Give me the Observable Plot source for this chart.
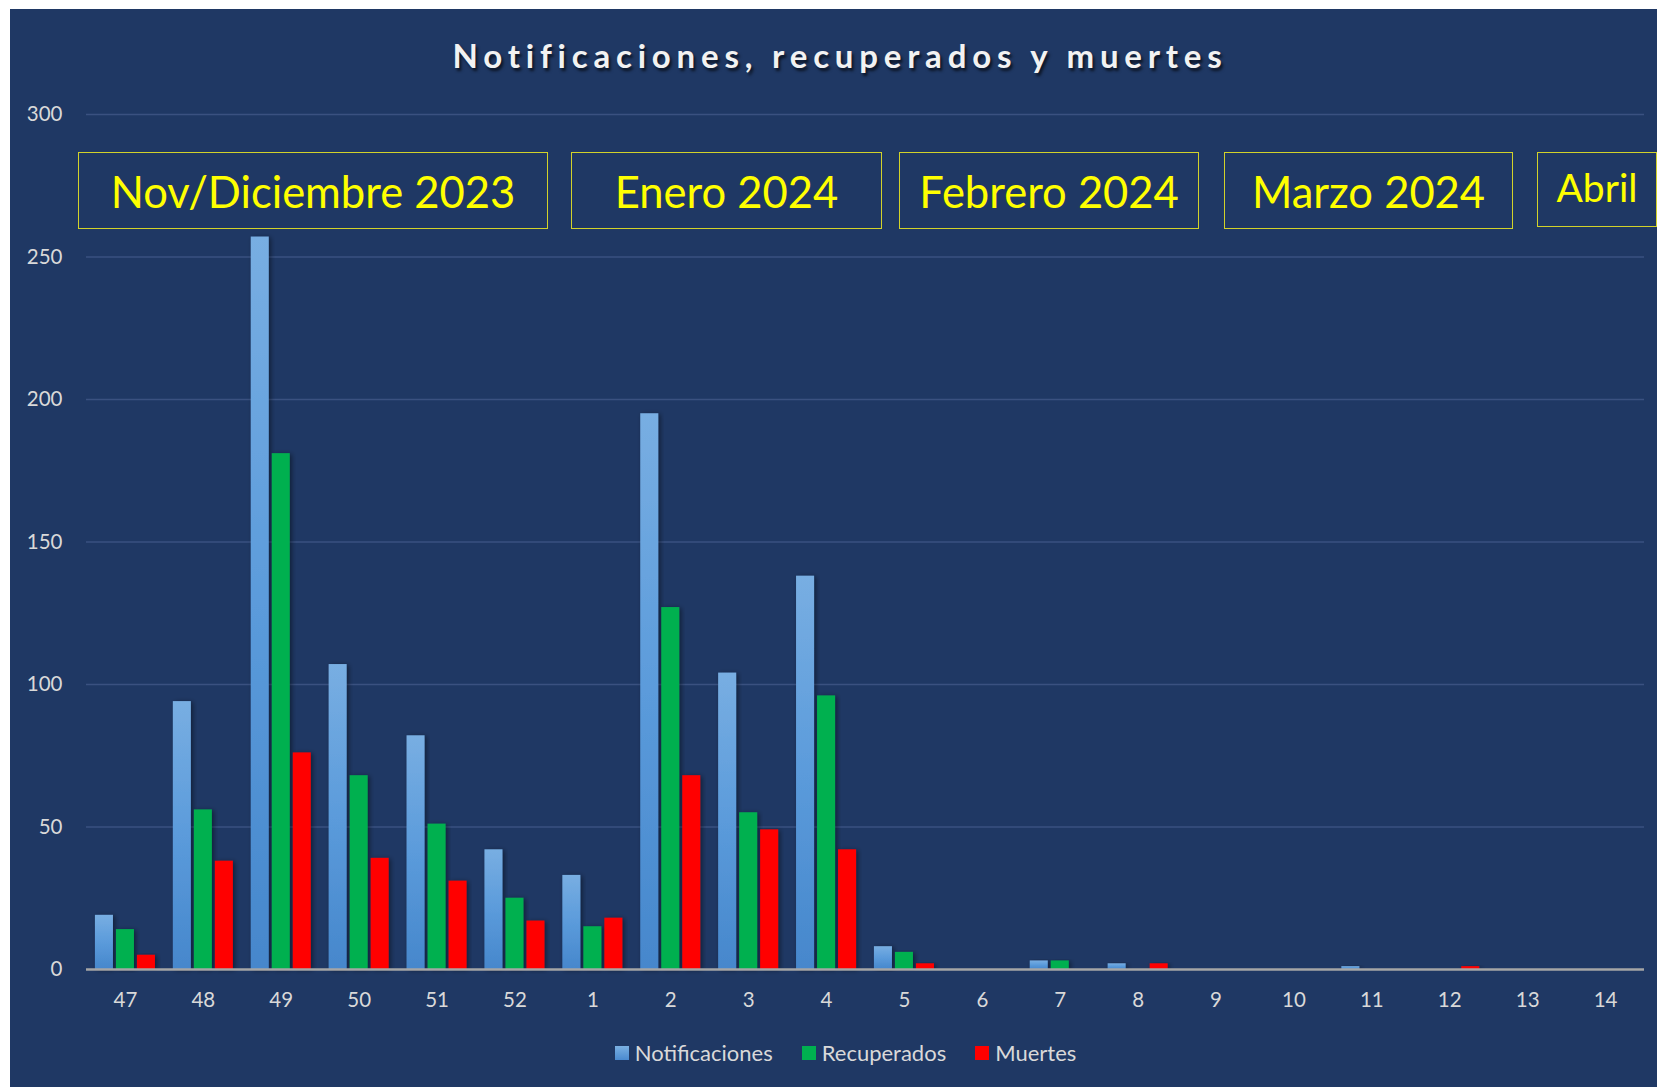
<!DOCTYPE html>
<html>
<head>
<meta charset="utf-8">
<script src="https://cdn.jsdelivr.net/npm/d3@7"></script>
<script src="https://cdn.jsdelivr.net/npm/@observablehq/plot@0.6"></script>
<style>
  html, body { margin: 0; padding: 0; background: #ffffff; width: 1657px; height: 1087px; overflow: hidden; }
  #chart { position: absolute; left: 10px; top: 9px; width: 1647px; height: 1078px; background: #1f3864; font-family: Lato, "Open Sans", sans-serif; overflow: hidden; }
  #title { position: absolute; left: 0; width: 1660px; top: 26px; text-align: center; font-weight: 700; font-size: 33px; letter-spacing: 5.8px; color: #f2f2f2; text-shadow: 2px 3px 3px rgba(0,0,0,0.65); }
  #plot { position: absolute; left: 0; top: 0; }
  .month { position: absolute; box-sizing: border-box; border: 1.3px solid #d2d22a; color: #ffff00; font-size: 43px; display: flex; align-items: center; justify-content: center; white-space: nowrap; }
  #legend { position: absolute; top: 1030px; left: 0; width: 1647px; display: flex; justify-content: center; gap: 29px; color: #d9d9d9; font-size: 22px; padding-left: 24px; box-sizing: border-box; }
  .item { display: flex; align-items: center; gap: 6px; }
  .sw { width: 14px; height: 14px; display: inline-block; }
</style>
</head>
<body>
<div id="chart">
  <div id="plot"></div>
  <div id="title">Notificaciones, recuperados y muertes</div>
  <div id="legend"></div>
</div>
<script>
// ---- data ----
const weeks = ["47","48","49","50","51","52","1","2","3","4","5","6","7","8","9","10","11","12","13","14"];
const notificaciones = [19, 94, 257, 107, 82, 42, 33, 195, 104, 138, 8, 0, 3, 2, 0, 0, 1, 0, 0, 0];
const recuperados    = [14, 56, 181, 68, 51, 25, 15, 127, 55, 96, 6, 0, 3, 0, 0, 0, 0, 0, 0, 0];
const muertes        = [5, 38, 76, 39, 31, 17, 18, 68, 49, 42, 2, 0, 0, 2, 0, 0, 0, 1, 0, 0];
const seriesNames = ["Notificaciones", "Recuperados", "Muertes"];
const yTicks = [0, 50, 100, 150, 200, 250, 300];
const monthLabels = ["Nov/Diciembre 2023", "Enero 2024", "Febrero 2024", "Marzo 2024", "Abril"];

// ---- layout / styles ----
const seriesColors = ["url(#blueGrad)", "#00b050", "#ff0000"];
const swatchColors = ["linear-gradient(#7ab0e2, #4a8ad0)", "#00b050", "#ff0000"];
const W = 1647, H = 1000, mL = 76, mR = 13, mT = 105, mB = 40;
const bandW = (W - mL - mR) / weeks.length;
const barW = 18;
const offsets = [-21, 0, 21];
const monthBoxes = [
  {x: 68, w: 470, fs: 43.5}, {x: 561, w: 311, fs: 43.5}, {x: 889, w: 300, fs: 43.5},
  {x: 1214, w: 289, fs: 43.5}, {x: 1527, w: 120, fs: 39}
];

const values = [notificaciones, recuperados, muertes];
const table = [];
seriesNames.forEach((s, si) => weeks.forEach((w, i) => table.push({week: w, series: s, si, value: values[si][i]})));

const barMarks = seriesNames.map((s, si) => {
  const center = bandW / 2 + offsets[si];
  return Plot.barY(table.filter(d => d.si === si), {
    x: "week", y: "value", fill: seriesColors[si],
    insetLeft: center - barW / 2, insetRight: bandW - center - barW / 2
  });
});

const chart = Plot.plot({
  width: W, height: H,
  marginLeft: mL, marginRight: mR, marginTop: mT, marginBottom: mB,
  style: {background: "transparent", color: "#d9d9d9", fontFamily: "Lato, 'Open Sans', sans-serif", fontSize: "20.5px", overflow: "visible"},
  x: {type: "band", domain: weeks, padding: 0, round: false, label: null, tickSize: 0, tickPadding: 23},
  y: {domain: [0, 300], ticks: yTicks, label: null, tickSize: 0, tickPadding: 24},
  marks: [
    Plot.gridY(yTicks.filter(t => t > 0), {stroke: "#3a5180", strokeOpacity: 1, strokeWidth: 1.5}),
    ...barMarks,
    Plot.ruleY([0], {stroke: "#a6a6a6", strokeWidth: 2.5})
  ]
});

// gradient defs
const ns = "http://www.w3.org/2000/svg";
const defs = document.createElementNS(ns, "defs");
defs.innerHTML = `<linearGradient id="blueGrad" x1="0" y1="0" x2="0" y2="1">
  <stop offset="0" stop-color="#78aee2"/><stop offset="0.5" stop-color="#5b9bdb"/><stop offset="1" stop-color="#4687cc"/></linearGradient>
  <filter id="sh" x="-30%" y="-10%" width="160%" height="120%"><feDropShadow dx="2" dy="1" stdDeviation="2.5" flood-color="#000" flood-opacity="0.45"/></filter>`;
chart.insertBefore(defs, chart.firstChild);
chart.querySelectorAll("g[aria-label='bar'] rect").forEach(r => r.setAttribute("filter", "url(#sh)"));
chart.querySelectorAll("g[aria-label='y-axis tick label'] text, g[aria-label='x-axis tick label'] text").forEach(t => t.setAttribute("fill", "#d9d9d9"));
document.getElementById("plot").appendChild(chart);

// month annotation boxes
const chartDiv = document.getElementById("chart");
monthLabels.forEach((m, i) => {
  const b = monthBoxes[i];
  const d = document.createElement("div");
  d.className = "month";
  d.style.left = b.x + "px"; d.style.width = b.w + "px";
  d.style.top = "143px"; d.style.height = (i === 4 ? 75 : 77) + "px";
  d.style.fontSize = b.fs + "px";
  if (i === 4) d.style.paddingBottom = "6px";
  d.textContent = m;
  chartDiv.appendChild(d);
});

// legend
const lg = document.getElementById("legend");
seriesNames.forEach((s, i) => {
  const it = document.createElement("div");
  it.className = "item";
  it.innerHTML = `<span class="sw" style="background:${swatchColors[i]}"></span><span>${s}</span>`;
  lg.appendChild(it);
});
</script>
</body>
</html>
